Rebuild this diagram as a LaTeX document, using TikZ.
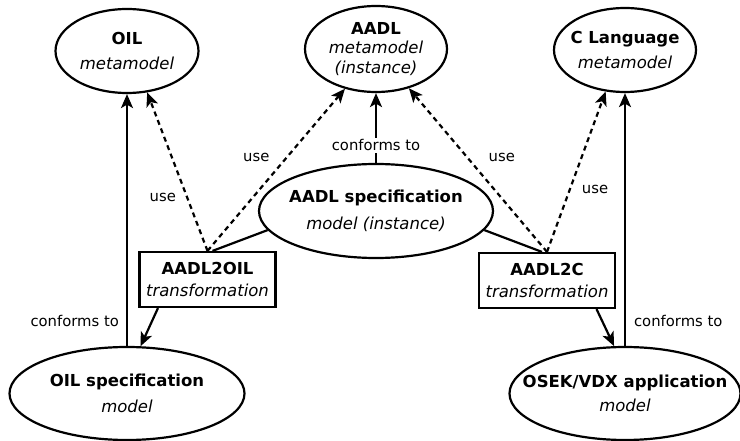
\documentclass[tikz,border=0pt]{standalone}
\usepackage{fontspec}
\setmainfont{DejaVu Sans}
\usetikzlibrary{arrows.meta,positioning,shapes.geometric}

\begin{document}
\begin{tikzpicture}[x=1pt,y=-1pt,line width=2.2pt,>={Stealth[length=14pt,width=12pt,inset=3.5pt]},
  model/.style={draw,ellipse,align=center,inner xsep=-40pt,inner ysep=0pt,font=\fontsize{16.5}{19.5}\selectfont},
  trans/.style={draw,rectangle,align=center,minimum width=136pt,minimum height=55pt,inner sep=0pt,font=\fontsize{16.5}{19.5}\selectfont},
  rel/.style={font=\fontsize{14.8}{17}\selectfont,inner sep=2pt},
  uses/.style={->,dash pattern=on 5pt off 4pt}]
\useasboundingbox (0,0) rectangle (740,441);
\node[model,minimum width=143pt,minimum height=84pt] (oilmm) at (127,51) {\textbf{OIL}\\[5pt]\textit{metamodel}};
\node[model,minimum width=142pt,minimum height=86pt] (aadlmm) at (376,49) {\textbf{AADL}\\\textit{metamodel}\\\textit{(instance)}};
\node[model,minimum width=142pt,minimum height=84pt] (cmm) at (625,50) {\textbf{C Language}\\[5pt]\textit{metamodel}};
\node[model,minimum width=234pt,minimum height=94pt] (aadlspec) at (376,211) {\textbf{AADL specification}\\[8pt]\textit{model (instance)}};
\node[trans] (a2oil) at (207.5,279.5) {\textbf{AADL2OIL}\\[2pt]\textit{transformation}};
\node[trans] (a2c) at (547,280.5) {\textbf{AADL2C}\\[2pt]\textit{transformation}};
\node[model,minimum width=235pt,minimum height=93pt] (oilspec) at (127,393.5) {\textbf{OIL specification}\\[7pt]\textit{model}};
\node[model,minimum width=231pt,minimum height=93pt] (osek) at (625,393.5) {\textbf{OSEK/VDX application}\\[5pt]\textit{model}};
% conforms to
\draw[->] (oilspec) -- (oilmm) node[rel,pos=.1,left=5pt] {conforms to};
\draw[->] (aadlspec) -- (aadlmm) node[rel,pos=.25,fill=white] {conforms to};
\draw[->] (osek) -- (cmm) node[rel,pos=.1,right=6pt] {conforms to};
% transformations
\draw (aadlspec.190) -- (a2oil.80);
\draw (aadlspec.-10) -- (a2c.100);
\draw[->] (a2oil.210) -- (oilspec.74);
\draw[->] (a2c.-30) -- (osek.103);
% use
\draw[uses] (a2oil.north) -- (oilmm.-64) node[rel,pos=.34,left=8pt] {use};
\draw[uses] (a2oil.north) -- (aadlmm.-128) node[rel,pos=.575,left=14pt] {use};
\draw[uses] (a2c.north) -- (aadlmm.-50) node[rel,pos=.575,right=18pt] {use};
\draw[uses] (a2c.north) -- (cmm.-115) node[rel,pos=.39,right=9pt] {use};
\end{tikzpicture}
\end{document}
